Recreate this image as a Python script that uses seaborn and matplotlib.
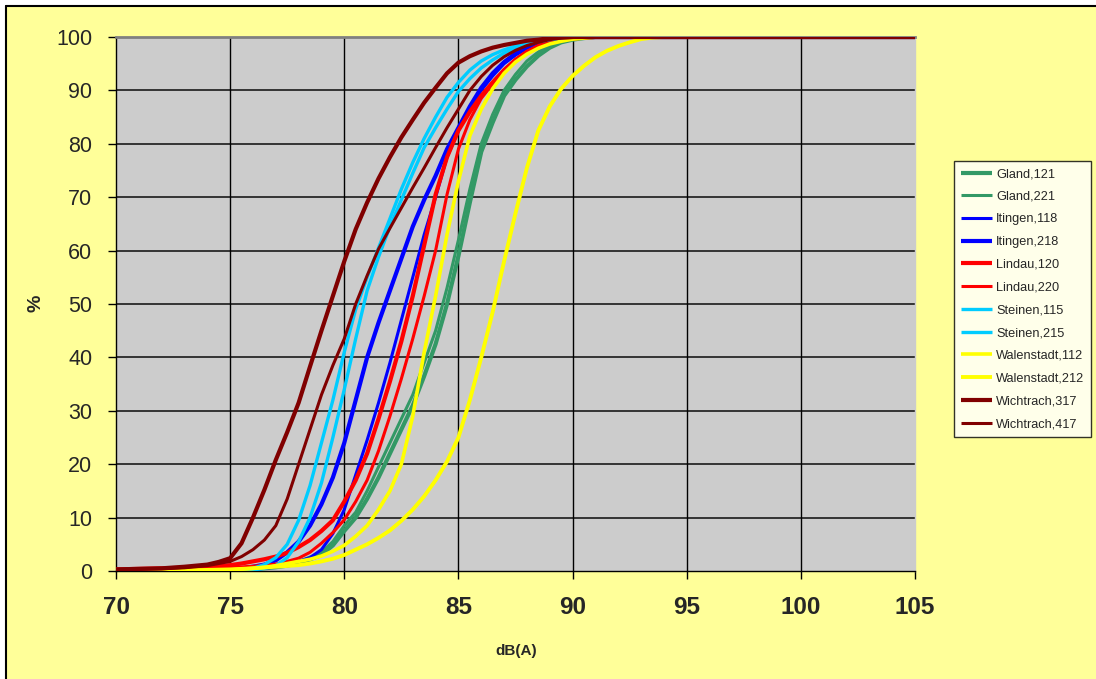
import matplotlib
matplotlib.use("Agg")
import matplotlib.pyplot as plt
from matplotlib.lines import Line2D
from matplotlib.patches import Rectangle
import numpy as np
import pandas as pd
import seaborn as sns

# Level axis in dB(A): whole steps in the tails, half steps through the rise
levels = [70, 71, 72, 73,
          74, 74.5, 75, 75.5, 76, 76.5, 77, 77.5, 78, 78.5, 79, 79.5,
          80, 80.5, 81, 81.5, 82, 82.5, 83, 83.5, 84, 84.5, 85, 85.5,
          86, 86.5, 87, 87.5, 88, 88.5, 89, 89.5, 90, 90.5, 91, 91.5,
          92, 92.5, 93, 93.5, 94,
          95, 105]

# Cumulative share of passages (%) at each level
gland_121 = [0.1, 0.1, 0.1, 0.1,
             0.1, 0.1, 0.1, 0.2, 0.3, 0.5, 0.7, 1.0, 1.5, 2.2, 3.0, 4.8,
             7.5, 10.0, 13.5, 17.5, 22.0, 26.5, 31.0, 36.5, 42.5, 50.0, 59.0, 69.0,
             78.5, 84.0, 89.0, 92.0, 94.5, 96.5, 98.0, 99.0, 99.5, 99.8, 100, 100,
             100, 100, 100, 100, 100,
             100, 100]
gland_221 = [0.1, 0.1, 0.1, 0.1,
             0.1, 0.15, 0.2, 0.3, 0.4, 0.6, 0.9, 1.3, 1.8, 2.6, 3.5, 5.5,
             8.5, 11.0, 15.0, 19.5, 24.0, 28.5, 33.0, 39.0, 45.0, 53.0, 62.0, 71.5,
             80.0, 85.5, 90.0, 93.0, 95.5, 97.2, 98.5, 99.3, 99.7, 99.9, 100, 100,
             100, 100, 100, 100, 100,
             100, 100]
itingen_118 = [0.0, 0.0, 0.0, 0.0,
               0.1, 0.1, 0.1, 0.2, 0.3, 0.5, 0.8, 1.2, 1.8, 2.5, 4.0, 7.0,
               11.5, 18.0, 24.5, 31.5, 39.0, 47.0, 55.0, 63.0, 70.0, 77.5, 82.5, 86.5,
               90.0, 92.7, 95.0, 96.6, 97.9, 98.8, 99.3, 99.6, 99.8, 100, 100, 100,
               100, 100, 100, 100, 100,
               100, 100]
itingen_218 = [0.0, 0.0, 0.0, 0.1,
               0.2, 0.25, 0.3, 0.5, 0.8, 1.2, 2.0, 3.5, 5.5, 8.5, 12.5, 17.5,
               24.0, 32.0, 40.0, 46.5, 52.5, 58.5, 64.5, 69.5, 74.0, 79.0, 83.0, 87.0,
               90.5, 93.2, 95.3, 96.9, 98.0, 98.8, 99.3, 99.6, 99.8, 100, 100, 100,
               100, 100, 100, 100, 100,
               100, 100]
lindau_120 = [0.3, 0.4, 0.5, 0.6,
              0.8, 0.95, 1.1, 1.4, 1.8, 2.2, 2.7, 3.4, 4.5, 5.8, 7.5, 9.5,
              13.0, 17.0, 22.0, 28.5, 35.5, 43.0, 51.5, 61.0, 70.5, 77.5, 82.5, 86.0,
              89.0, 91.5, 93.8, 95.7, 97.2, 98.3, 99.0, 99.4, 99.7, 99.9, 100, 100,
              100, 100, 100, 100, 100,
              100, 100]
lindau_220 = [0.1, 0.1, 0.2, 0.3,
              0.4, 0.5, 0.6, 0.75, 0.9, 1.1, 1.3, 1.8, 2.4, 3.5, 5.2, 7.2,
              9.6, 13.0, 17.0, 22.5, 29.0, 36.0, 43.5, 51.5, 60.0, 70.5, 79.0, 84.5,
              88.5, 91.2, 93.8, 95.8, 97.3, 98.3, 99.0, 99.5, 99.7, 99.9, 100, 100,
              100, 100, 100, 100, 100,
              100, 100]
steinen_115 = [0.0, 0.0, 0.0, 0.0,
               0.0, 0.1, 0.1, 0.2, 0.5, 1.2, 2.5, 5.0, 9.5, 16.0, 24.0, 32.0,
               41.0, 49.0, 55.0, 60.5, 66.0, 71.5, 76.5, 81.0, 85.0, 88.7, 91.5, 93.8,
               95.5, 96.7, 97.6, 98.3, 98.9, 99.3, 99.6, 99.8, 100, 100, 100, 100,
               100, 100, 100, 100, 100,
               100, 100]
steinen_215 = [0.0, 0.0, 0.0, 0.0,
               0.0, 0.0, 0.1, 0.1, 0.2, 0.5, 1.0, 2.5, 5.5, 10.0, 16.5, 25.0,
               34.0, 43.5, 52.5, 58.8, 64.5, 69.5, 74.5, 79.3, 83.0, 86.5, 89.8, 92.2,
               94.2, 95.7, 97.0, 97.9, 98.6, 99.1, 99.5, 99.7, 99.9, 100, 100, 100,
               100, 100, 100, 100, 100,
               100, 100]
walenstadt_112 = [0.0, 0.0, 0.0, 0.1,
                  0.1, 0.15, 0.2, 0.35, 0.5, 0.7, 1.0, 1.4, 1.8, 2.2, 2.8, 3.7,
                  4.8, 6.5, 8.5, 11.5, 15.0, 20.0, 29.0, 41.0, 51.5, 63.0, 73.0, 81.5,
                  86.5, 90.3, 93.2, 95.3, 96.8, 97.9, 98.7, 99.2, 99.6, 99.8, 100, 100,
                  100, 100, 100, 100, 100,
                  100, 100]
walenstadt_212 = [0.0, 0.0, 0.0, 0.1,
                  0.2, 0.25, 0.3, 0.4, 0.5, 0.65, 0.8, 0.95, 1.1, 1.4, 1.8, 2.3,
                  3.0, 4.0, 5.0, 6.2, 7.6, 9.4, 11.5, 14.0, 17.0, 20.5, 25.0, 32.0,
                  40.0, 48.5, 58.0, 67.0, 75.5, 82.5, 87.0, 90.3, 92.7, 94.6, 96.2, 97.4,
                  98.3, 99.0, 99.6, 99.9, 100,
                  100, 100]
wichtrach_317 = [0.3, 0.4, 0.5, 0.8,
                 1.2, 1.7, 2.4, 5.2, 10.0, 15.2, 20.8, 26.0, 31.5, 38.3, 45.0, 51.5,
                 58.0, 64.0, 69.0, 73.5, 77.5, 81.2, 84.5, 87.7, 90.5, 93.2, 95.2, 96.4,
                 97.3, 98.0, 98.5, 98.9, 99.3, 99.5, 99.8, 99.9, 100, 100, 100, 100,
                 100, 100, 100, 100, 100,
                 100, 100]
wichtrach_417 = [0.2, 0.3, 0.4, 0.6,
                 1.0, 1.4, 1.8, 2.7, 4.0, 5.8, 8.5, 13.5, 20.0, 26.5, 33.0, 38.5,
                 43.5, 50.0, 55.3, 60.3, 64.2, 68.0, 71.8, 75.5, 79.3, 83.0, 86.5, 90.0,
                 92.6, 94.7, 96.3, 97.5, 98.4, 99.0, 99.5, 99.8, 99.9, 100, 100, 100,
                 100, 100, 100, 100, 100,
                 100, 100]

series = [
    ("Gland,121", gland_121, "#339966", 3.0),
    ("Gland,221", gland_221, "#339966", 2.2),
    ("Itingen,118", itingen_118, "#0000FF", 2.2),
    ("Itingen,218", itingen_218, "#0000FF", 3.0),
    ("Lindau,120", lindau_120, "#FF0000", 3.0),
    ("Lindau,220", lindau_220, "#FF0000", 2.2),
    ("Steinen,115", steinen_115, "#00CCFF", 2.4),
    ("Steinen,215", steinen_215, "#00CCFF", 2.4),
    ("Walenstadt,112", walenstadt_112, "#FFFF00", 2.6),
    ("Walenstadt,212", walenstadt_212, "#FFFF00", 2.8),
    ("Wichtrach,317", wichtrach_317, "#800000", 3.0),
    ("Wichtrach,417", wichtrach_417, "#800000", 2.2),
]

sns.set_theme(style="white")
plt.rcParams["font.family"] = ["Liberation Sans", "DejaVu Sans"]

W, H = 1096, 679
fig = plt.figure(figsize=(W / 100, H / 100), dpi=100)
fig.patch.set_facecolor("white")

# Chart area: pale yellow panel with a black edge on the top and left
fig.add_artist(Rectangle((6 / W, 0), 1 - 6 / W, 1 - 6 / H, transform=fig.transFigure,
                         facecolor="#FFFF99", edgecolor="none", zorder=-2))
fig.add_artist(Line2D([6 / W, 6 / W], [0, 1 - 6 / H], transform=fig.transFigure,
                      color="black", lw=1.5, zorder=-1))
fig.add_artist(Line2D([6 / W, 1], [1 - 6 / H, 1 - 6 / H], transform=fig.transFigure,
                      color="black", lw=1.5, zorder=-1))

left, right, top, bottom = 116, 915, 37, 571
ax = fig.add_axes([left / W, 1 - bottom / H, (right - left) / W, (bottom - top) / H])
ax.set_facecolor("#CCCCCC")

for name, vals, color, lw in series:
    df = pd.DataFrame({"dB": levels, "pct": vals})
    sns.lineplot(data=df, x="dB", y="pct", ax=ax, color=color, linewidth=lw,
                 label=name, solid_joinstyle="round", solid_capstyle="round",
                 clip_on=True, zorder=3)

ax.set_xlim(70, 105)
ax.set_ylim(0, 100)
ax.set_xticks(np.arange(70, 106, 5))
ax.set_yticks(np.arange(0, 101, 10))

# Gridlines
for yv in range(10, 100, 10):
    ax.axhline(yv, color="#333333", lw=1.4, zorder=1)
for xv in range(75, 105, 5):
    ax.axvline(xv, color="black", lw=1.0, zorder=1)

for side in ["right", "bottom", "left"]:
    ax.spines[side].set_color("black")
    ax.spines[side].set_linewidth(1.0)
ax.spines["top"].set_color("#808080")
ax.spines["top"].set_linewidth(2.0)
ax.spines["right"].set_color("#CCCCCC")

ax.tick_params(axis="y", which="major", direction="out", length=6, width=1,
               color="black", labelsize=15.5, pad=11, left=True)
ax.tick_params(axis="x", which="major", direction="out", length=6, width=1,
               color="black", labelsize=17.5, pad=12, bottom=True)
for lab in ax.get_xticklabels():
    lab.set_fontweight("bold")

ax.set_xlabel("")
ax.set_ylabel("")
fig.text(516 / W, 1 - 651 / H, "dB(A)", ha="center", va="center",
         fontsize=11, fontweight="bold")
fig.text(36 / W, 1 - 303 / H, "%", ha="center", va="center",
         fontsize=14, fontweight="bold", rotation=90)

leg = ax.legend(loc="upper left", bbox_to_anchor=(954 / W, 1 - 161 / H),
                bbox_transform=fig.transFigure, frameon=True, fancybox=False,
                fontsize=9.2, handlelength=2.45, handletextpad=0.3,
                labelspacing=0.84, borderpad=0.55, borderaxespad=0)
leg.get_frame().set_edgecolor("black")
leg.get_frame().set_linewidth(1.0)
leg.get_frame().set_facecolor("white")
for h in leg.get_lines():
    h.set_solid_capstyle("butt")

fig.savefig("out.png", dpi=100, facecolor=fig.get_facecolor())
